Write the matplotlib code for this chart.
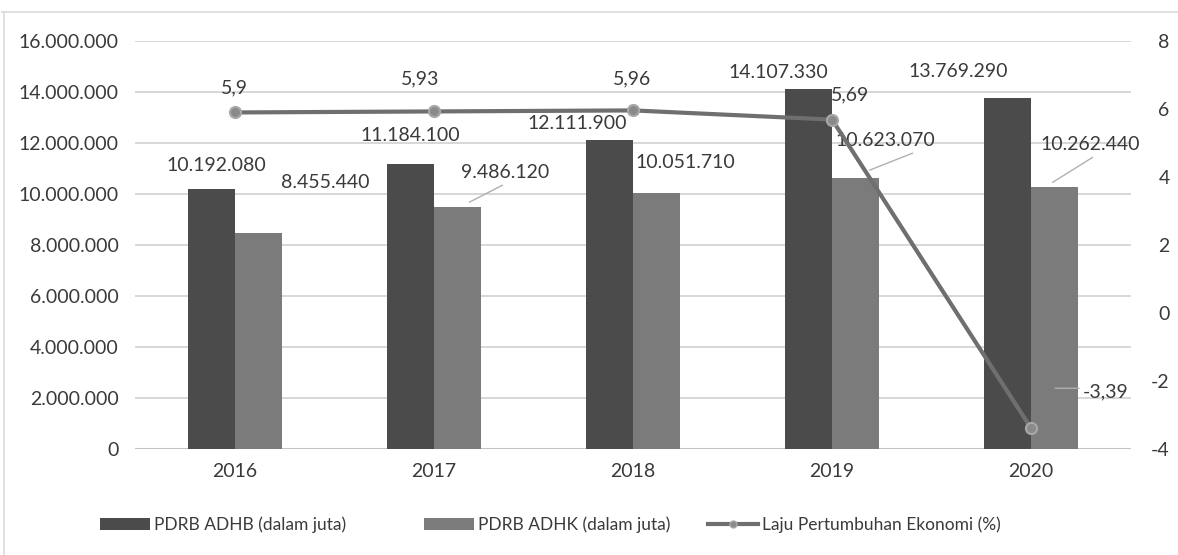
import matplotlib
matplotlib.use("Agg")
import matplotlib.pyplot as plt
from matplotlib.lines import Line2D
from matplotlib.patches import Patch
from matplotlib.ticker import FuncFormatter
from matplotlib.transforms import offset_copy

# --- data -------------------------------------------------------------
years = ["2016", "2017", "2018", "2019", "2020"]
pdrb_adhb = [10192080, 11184100, 12111900, 14107330, 13769290]
pdrb_adhk = [8455440, 9486120, 10051710, 10623070, 10262440]
laju = [5.90, 5.93, 5.96, 5.69, -3.39]
laju_text = ["5,9", "5,93", "5,96", "5,69", "-3,39"]

left_ticks = [0, 2000000, 4000000, 6000000, 8000000, 10000000, 12000000, 14000000, 16000000]
right_ticks = [-4, -2, 0, 2, 4, 6, 8]

# --- style ------------------------------------------------------------
plt.rcParams["font.family"] = ["Lato", "DejaVu Sans"]
plt.rcParams["axes.unicode_minus"] = False
TXT = "#3a3a3a"
C_ADHB = "#4b4b4b"
C_ADHK = "#7b7b7b"
C_LINE = "#6f6f6f"
GRID = "#d4d4d4"
LEAD = "#b0b0b0"

fig = plt.figure(figsize=(11.78, 5.55), dpi=100)
fig.patch.set_facecolor("white")
ax = fig.add_axes([0.115, 0.191, 0.8448, 0.735])
ax2 = ax.twinx()

x = list(range(len(years)))
w = 0.236
xa = [i - w / 2 for i in x]
xk = [i + w / 2 for i in x]

ax.bar(xa, pdrb_adhb, width=w, color=C_ADHB, zorder=2)
ax.bar(xk, pdrb_adhk, width=w, color=C_ADHK, zorder=2)

ax.set_xlim(-0.5, len(years) - 0.5)
ax.set_ylim(0, 16000000)
ax.set_yticks(left_ticks)
ax.yaxis.set_major_formatter(FuncFormatter(lambda v, p: f"{int(v):,}".replace(",", ".")))
ax.set_xticks(x)
ax.set_xticklabels(years)
ax.grid(axis="y", color=GRID, linewidth=1.3, zorder=0)
ax.set_axisbelow(True)
for s in ["top", "right", "left", "bottom"]:
    ax.spines[s].set_visible(False)
    ax2.spines[s].set_visible(False)
ax.axhline(0, color="#c4c4c4", linewidth=1.5, zorder=1)
ax.tick_params(axis="y", length=0, pad=12, labelsize=14, labelcolor=TXT)
ax.tick_params(axis="x", length=0, pad=10, labelsize=14, labelcolor=TXT)

ax2.set_ylim(-4, 8)
ax2.set_yticks(right_ticks)
ax2.tick_params(axis="y", length=0, pad=28, labelsize=14, labelcolor=TXT)
for t in ax2.get_yticklabels():
    t.set_horizontalalignment("right")

ax2.plot(x, laju, color=C_LINE, linewidth=3, marker="o", markersize=8,
         markerfacecolor="#8a8a8a", markeredgecolor="#a8a8a8", markeredgewidth=1.5,
         zorder=4)

# bar value labels (offsets given in pixels, converted to points)
lab_kw = dict(fontsize=14, color=TXT, ha="center", va="center",
              textcoords="offset points")
px = 0.72
adhb_off = [(5, 24), (0, 28), (-32, 17), (-30, 17), (-49, 26)]
adhk_off = [(67, 51), (48, 35), (29, 30), (30, 38), (36, 43)]
fmt = lambda v: f"{v:,}".replace(",", ".")
for i in x:
    ax.annotate(fmt(pdrb_adhb[i]), (xa[i], pdrb_adhb[i]),
                xytext=(adhb_off[i][0] * px, adhb_off[i][1] * px), zorder=6, **lab_kw)
    ax.annotate(fmt(pdrb_adhk[i]), (xk[i], pdrb_adhk[i]),
                xytext=(adhk_off[i][0] * px, adhk_off[i][1] * px), zorder=6, **lab_kw)


def leader(axis, xv, yv, start, end):
    """Thin connector between two pixel offsets from a data point."""
    base = offset_copy(axis.transData, fig=fig, x=start[0] * px, y=start[1] * px,
                       units="points")
    axis.annotate("", (xv, yv), xycoords=base,
                  xytext=((end[0] - start[0]) * px, (end[1] - start[1]) * px),
                  textcoords="offset points",
                  arrowprops=dict(arrowstyle="-", color=LEAD, lw=1,
                                  shrinkA=0, shrinkB=0), zorder=5)


leader(ax, xk[1], pdrb_adhk[1], (12, 5), (45, 22))
leader(ax, xk[3], pdrb_adhk[3], (14, 8), (57, 25))
leader(ax, xk[4], pdrb_adhk[4], (-2, 5), (38, 30))

# growth-rate labels
laju_off = [(-1, 25), (-14, 33), (-1, 32), (18, 25), (74, 36)]
for i in x:
    ax2.annotate(laju_text[i], (x[i], laju[i]),
                 xytext=(laju_off[i][0] * px, laju_off[i][1] * px), zorder=6, **lab_kw)
leader(ax2, x[4], laju[4], (24, 40), (48, 40))

# legend: three single-entry groups placed along the bottom
groups = [
    (Patch(facecolor=C_ADHB, edgecolor="none"), "PDRB ADHB (dalam juta)", 0.082),
    (Patch(facecolor=C_ADHK, edgecolor="none"), "PDRB ADHK (dalam juta)", 0.357),
    (Line2D([0], [0], color=C_LINE, linewidth=3, marker="o", markersize=5,
            markerfacecolor="#8a8a8a", markeredgecolor="#a8a8a8"),
     "Laju Pertumbuhan Ekonomi (%)", 0.598),
]
for h, lab, xpos in groups:
    fig.legend([h], [lab], loc="center left", bbox_to_anchor=(xpos, 0.054),
               frameon=False, fontsize=12.5, labelcolor=TXT, handlelength=2.9,
               handleheight=0.7, handletextpad=0.2, borderaxespad=0,
               borderpad=0.2)

# chart frame
fig.add_artist(Line2D([0.002, 1.0], [0.978, 0.978], color="#dcdcdc", lw=1.2,
                      transform=fig.transFigure))
fig.add_artist(Line2D([0.003, 0.003], [0.0, 0.978], color="#dcdcdc", lw=1.2,
                      transform=fig.transFigure))

fig.savefig("out.png", dpi=100, facecolor="white")
